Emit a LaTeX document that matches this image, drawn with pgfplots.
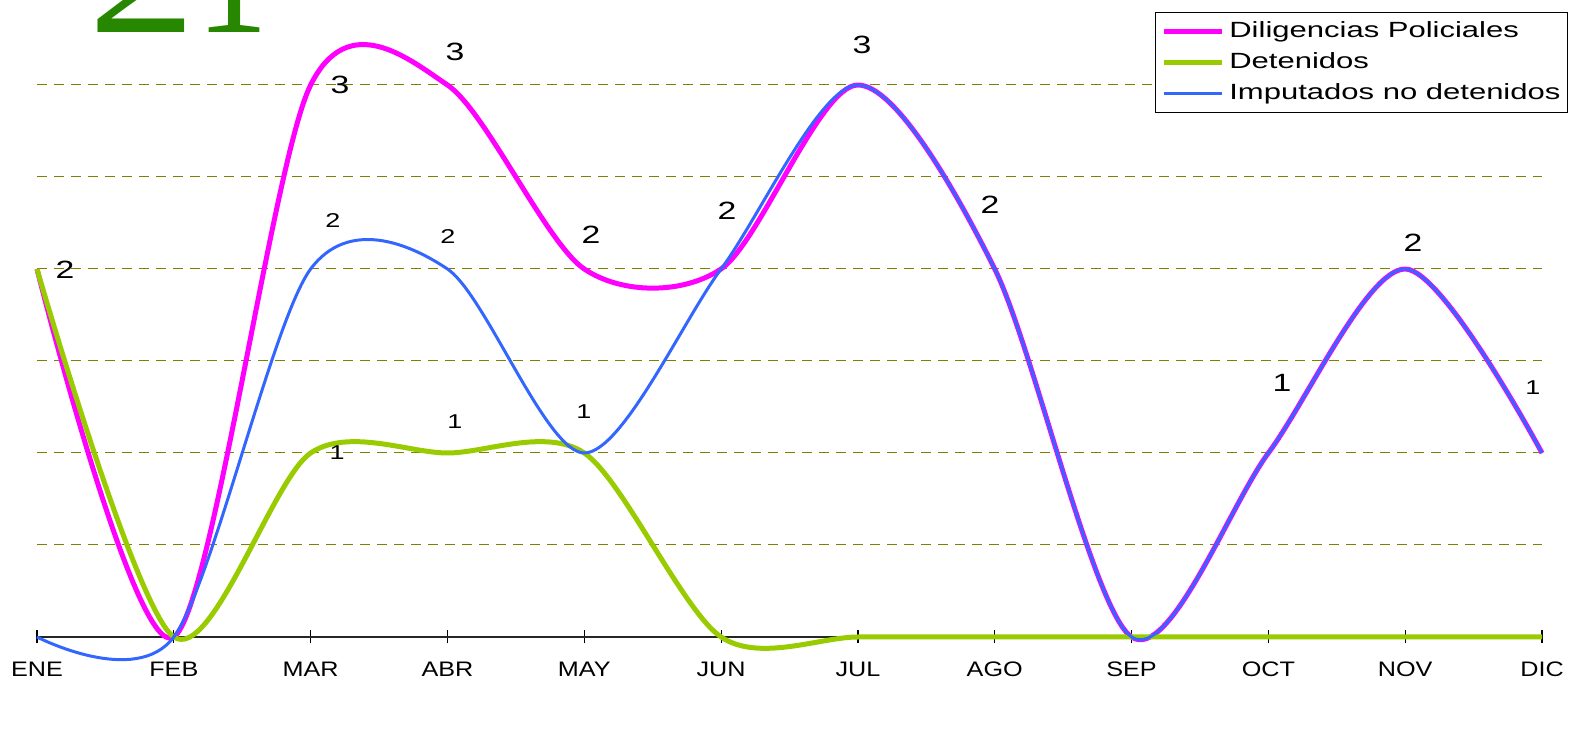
\documentclass[border=0pt]{standalone}
\usepackage{pgfplots}
\pgfplotsset{compat=1.18}
\usepackage{fontspec}
\setmainfont{Liberation Sans}
\newfontfamily\twofont[FakeStretch=1.2]{Liberation Serif}
\newfontfamily\onefont[FakeStretch=0.8]{Liberation Serif}
\newfontfamily\legfont[FakeStretch=1.41]{Liberation Sans}
\newfontfamily\tickfont[FakeStretch=1.2]{Liberation Sans}
\newfontfamily\labfont[FakeStretch=1.35]{Liberation Sans}
\definecolor{dilig}{RGB}{255,0,255}
\definecolor{deten}{RGB}{153,204,0}
\definecolor{imput}{RGB}{51,102,255}
\definecolor{gridc}{RGB}{128,128,0}
\definecolor{big21}{RGB}{40,135,0}
\begin{document}
\begin{tikzpicture}
\begin{axis}[
  scale only axis, width=752.5pt, height=318.5pt,
  xmin=0, xmax=11, ymin=0, ymax=3.462,
  clip=false,
  axis lines*=left,
  y axis line style={draw=none},
  x axis line style={black!85, line width=0.75pt},
  ytick={0.5,1,1.5,2,2.5,3},
  yticklabels={},
  ytick style={draw=none},
  ymajorgrids,
  grid style={gridc, line width=0.5pt, dash pattern=on 5pt off 3.5pt},
  xtick={0,...,11},
  xticklabels={ENE,FEB,MAR,ABR,MAY,JUN,JUL,AGO,SEP,OCT,NOV,DIC},
  tick align=center,
  major tick length=6.5pt,
  xtick style={black, line width=0.6pt},
  xticklabel style={font=\tickfont\fontsize{10.5}{12}\selectfont, yshift=-5.5pt},
  legend style={at={(1.0173,0.9812)}, anchor=north east, draw=black, line width=0.6pt,
    font=\legfont\fontsize{11}{13}\selectfont, inner xsep=1pt, inner ysep=1.75pt, row sep=0pt,
    nodes={inner xsep=2.5pt, inner ysep=2.5pt, text height=8pt, text depth=2.5pt}},
  legend cell align=left,
  legend image code/.code={\path (-2pt,0pt); \draw[#1] (0pt,0pt) -- (29pt,0pt);},
]
\addplot[dilig, line width=2.5pt, smooth, tension=0.5, line join=round] coordinates {(0,2)(1,0)(2,3)(3,3)(4,2)(5,2)(6,3)(7,2)(8,0)(9,1)(10,2)(11,1)};
\addplot[deten, line width=2.5pt, smooth, tension=0.5, line join=round] coordinates {(0,2)(1,0)(2,1)(3,1)(4,1)(5,0)(6,0)(7,0)(8,0)(9,0)(10,0)(11,0)};
\addplot[imput, line width=1.5pt, smooth, tension=0.5, line join=round] coordinates {(0,0)(1,0)(2,2)(3,2)(4,1)(5,2)(6,3)(7,2)(8,0)(9,1)(10,2)(11,1)};
\legend{Diligencias Policiales, Detenidos, Imputados no detenidos}
% data labels
\begin{scope}[every node/.style={inner sep=0pt, font=\labfont\fontsize{12.5}{14}\selectfont}]
\node at (axis cs:0.205,1.995) {2};
\node at (axis cs:2.215,3.0) {3};
\node at (axis cs:3.055,3.179) {3};
\node at (axis cs:4.049,2.185) {2};
\node at (axis cs:5.043,2.315) {2};
\node at (axis cs:6.03,3.217) {3};
\node at (axis cs:6.965,2.348) {2};
\node at (axis cs:9.1,1.38) {1};
\node at (axis cs:10.057,2.141) {2};
\end{scope}
\begin{scope}[every node/.style={inner sep=0pt, font=\labfont\fontsize{10}{12}\selectfont}]
\node at (axis cs:10.934,1.353) {1};
\node at (axis cs:2.163,2.266) {2};
\node at (axis cs:3.004,2.174) {2};
\node at (axis cs:3.055,1.168) {1};
\node at (axis cs:3.998,1.223) {1};
\node at (axis cs:2.193,1.0) {1};
\end{scope}
\node[anchor=base west, inner sep=0pt, text=big21] at (axis cs:0.373,3.286) {\fontsize{90}{90}\selectfont\twofont 2\onefont 1};
\coordinate (bl) at (axis cs:-0.2704,-0.5109);
\coordinate (tr) at (axis cs:11.2046,3.462);
\end{axis}
\pgfresetboundingbox
\path[use as bounding box] (bl) rectangle (tr);
\end{tikzpicture}
\end{document}
